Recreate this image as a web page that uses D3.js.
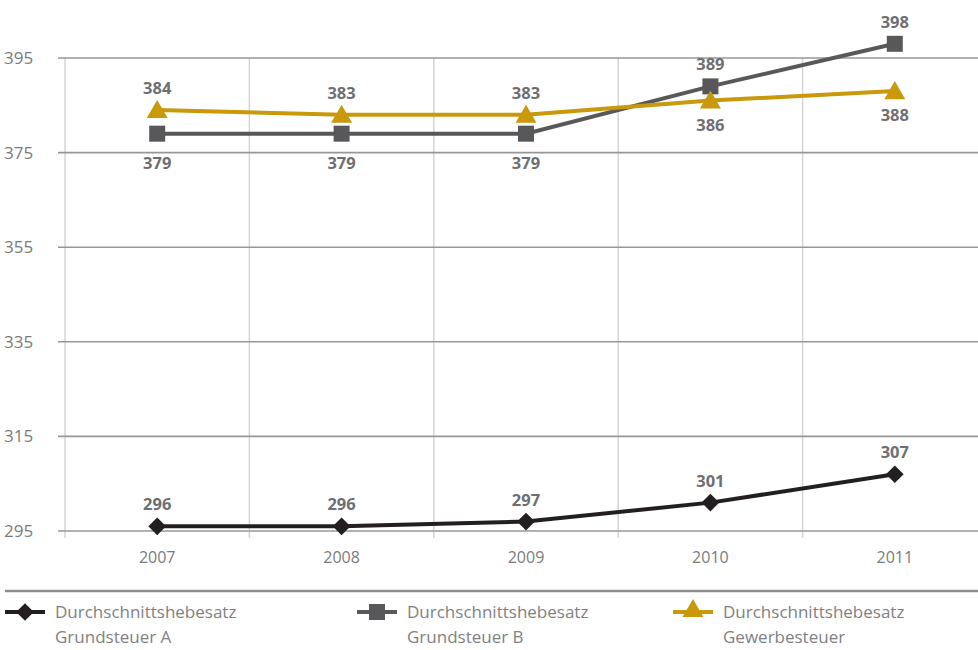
<!DOCTYPE html>
<html>
<head>
<meta charset="utf-8">
<script src="https://cdn.jsdelivr.net/npm/d3@7"></script>
<style>
  html, body { margin: 0; padding: 0; background: #fff; }
  svg { display: block; font-family: "Open Sans", "Noto Sans", sans-serif; }
</style>
</head>
<body>
<svg id="chart" width="978" height="650"></svg>
<script>
// Durchschnittshebesätze 2007–2011
const years = ["2007", "2008", "2009", "2010", "2011"];
const grundsteuerA = [296, 296, 297, 301, 307];
const grundsteuerB = [379, 379, 379, 389, 398];
const gewerbesteuer = [384, 383, 383, 386, 388];
const yTicks = [295, 315, 335, 355, 375, 395];

const series = [
  { key: "A", values: grundsteuerA, color: "#231f20", symbol: d3.symbolDiamond2, size: 200,
    labelPos: ["above", "above", "above", "above", "above"],
    legend: ["Durchschnittshebesatz", "Grundsteuer A"] },
  { key: "B", values: grundsteuerB, color: "#58585a", symbol: d3.symbolSquare, size: 256,
    labelPos: ["below", "below", "below", "above", "above"],
    legend: ["Durchschnittshebesatz", "Grundsteuer B"] },
  { key: "C", values: gewerbesteuer, color: "#c9980b", symbol: d3.symbolTriangle, size: 190,
    labelPos: ["above", "above", "above", "below", "below"],
    legend: ["Durchschnittshebesatz", "Gewerbesteuer"] }
];

const svg = d3.select("#chart");

const x = d3.scaleBand().domain(years).range([65, 987]);
const y = d3.scaleLinear().domain([295, 395]).range([531, 58]);
const yBottom = y(293.5);

// vertical separators between the years
svg.append("g")
  .selectAll("line")
  .data(years)
  .join("line")
  .attr("x1", d => x(d)).attr("x2", d => x(d))
  .attr("y1", y(395)).attr("y2", yBottom)
  .attr("stroke", "#d4d4d4").attr("stroke-width", 1.5);

// horizontal gridlines
svg.append("g")
  .selectAll("line")
  .data(yTicks)
  .join("line")
  .attr("x1", 58).attr("x2", 978)
  .attr("y1", d => y(d)).attr("y2", d => y(d))
  .attr("stroke", "#979797").attr("stroke-width", 1.6);

// y tick labels
svg.append("g")
  .selectAll("text")
  .data(yTicks)
  .join("text")
  .attr("x", 4).attr("y", d => y(d))
  .attr("dy", "0.35em")
  .attr("fill", "#7b7b7d")
  .attr("font-size", 17)
  .text(d => d);

// x axis labels
const xAxis = d3.axisBottom(x).tickSize(0).tickPadding(0);
const gx = svg.append("g").attr("transform", `translate(0, ${y(295) + 26})`).call(xAxis);
gx.select(".domain").remove();
gx.selectAll("text")
  .attr("fill", "#7b7b7d").attr("font-size", 16)
  .attr("font-family", "'Open Sans', sans-serif")
  .attr("dy", "0.35em").attr("y", 0);

const cx = d => x(d) + x.bandwidth() / 2;

const line = d3.line().x(d => cx(d.year)).y(d => y(d.value));

series.forEach(s => {
  const isTri = s.symbol === d3.symbolTriangle;
  const pts = years.map((yr, i) => ({ year: yr, value: s.values[i], pos: s.labelPos[i] }));
  const g = svg.append("g");
  g.append("path")
    .datum(pts)
    .attr("d", line)
    .attr("fill", "none")
    .attr("stroke", s.color)
    .attr("stroke-width", 4);
  g.selectAll("path.mark")
    .data(pts)
    .join("path")
    .attr("class", "mark")
    .attr("d", d3.symbol().type(s.symbol).size(s.size))
    .attr("transform", d => `translate(${cx(d.year)}, ${y(d.value) + (isTri ? 2 : 0)})`)
    .attr("fill", s.color);
  g.selectAll("text")
    .data(pts)
    .join("text")
    .attr("x", d => cx(d.year))
    .attr("y", d => d.pos === "above" ? y(d.value) - 16 : y(d.value) + (isTri ? 30 : 35))
    .attr("text-anchor", "middle")
    .attr("fill", "#6f6f71")
    .attr("font-size", 16.5)
    .attr("font-weight", "bold")
    .text(d => d.value);
});

// legend separator
svg.append("line")
  .attr("x1", 5).attr("x2", 978)
  .attr("y1", 591).attr("y2", 591)
  .attr("stroke", "#8e8e8e").attr("stroke-width", 2.5);

// legend
const legendX = [5, 357, 673];
series.forEach((s, i) => {
  const g = svg.append("g").attr("transform", `translate(${legendX[i]}, 612)`);
  g.append("line").attr("x1", 0).attr("x2", 40).attr("y1", 0).attr("y2", 0)
    .attr("stroke", s.color).attr("stroke-width", 4);
  g.append("path")
    .attr("d", d3.symbol().type(s.symbol).size(s.size))
    .attr("transform", `translate(20, ${s.symbol === d3.symbolTriangle ? -1 : 0})`)
    .attr("fill", s.color);
  const t = g.append("text")
    .attr("x", 50).attr("y", 0)
    .attr("fill", "#818183").attr("font-size", 17);
  t.append("tspan").attr("x", 50).attr("dy", "0.35em").text(s.legend[0]);
  t.append("tspan").attr("x", 50).attr("dy", "1.45em").text(s.legend[1]);
});
</script>
</body>
</html>
